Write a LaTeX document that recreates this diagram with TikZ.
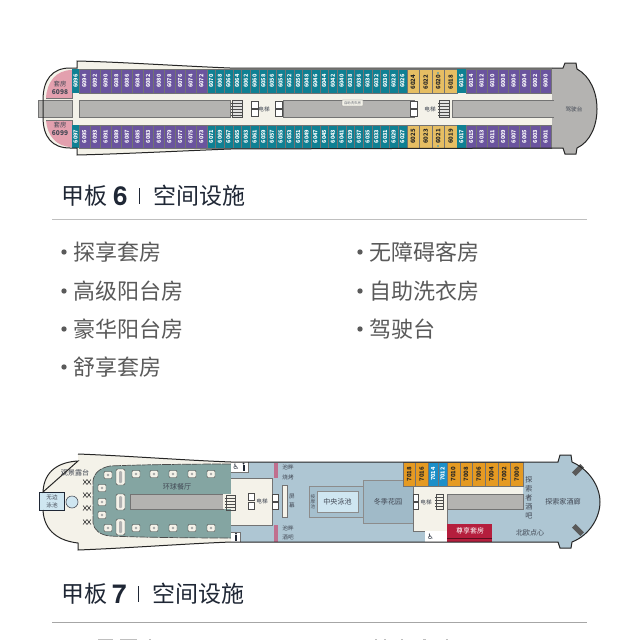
\documentclass[tikz,border=0pt]{standalone}
\usepackage{fontspec}
\setmainfont{Noto Sans CJK SC}
\newfontfamily\latinfont{TeX Gyre Heros}
\newfontfamily\iconfont{DejaVu Sans}

\definecolor{hullCream}{HTML}{F4F2E9}
\definecolor{roomPurple}{HTML}{6A549E}
\definecolor{roomTeal}{HTML}{0F8093}
\definecolor{roomGold}{HTML}{E6BE63}
\definecolor{roomOrange}{HTML}{E59A22}
\definecolor{roomBlue}{HTML}{1C8FC8}
\definecolor{roomPink}{HTML}{E3A0AE}
\definecolor{deckGray}{HTML}{B4B3B1}
\definecolor{deckBlue}{HTML}{AEC6D3}
\definecolor{gardenBlue}{HTML}{A0BAC8}
\definecolor{poolBlue}{HTML}{CFE6F1}
\definecolor{diningTeal}{HTML}{84A5A2}
\definecolor{suiteRed}{HTML}{B51E3D}
\definecolor{barPink}{HTML}{C06F8E}
\definecolor{inkDark}{HTML}{1F2735}
\definecolor{inkGray}{HTML}{5A5A5A}

\tikzset{
    hullline/.style={draw=black!85, line width=1pt},
    roomline/.style={draw=black!55, line width=0.25pt},
    roomtext/.style={white, font=\fontsize{5.6}{5.6}\selectfont\bfseries, rotate=90, inner sep=0pt},
    goldtext/.style={roomtext, black!85, font=\fontsize{6}{6}\selectfont\bfseries},
    tinytext/.style={inkDark!85, font=\fontsize{5.6}{6}\selectfont, inner sep=0pt},
    smalltext/.style={inkDark!85, font=\fontsize{7.1}{7}\selectfont, inner sep=0pt},
    titletext/.style={inkDark, anchor=west, font=\fontsize{23}{24}\selectfont, inner sep=0pt},
    numtext/.style={inkDark, anchor=west, font=\fontsize{26}{26}\selectfont\latinfont\bfseries, inner sep=0pt},
    listtext/.style={inkGray, anchor=west, font=\fontsize{22}{24}\selectfont, inner sep=0pt},
    seatbox/.style={fill=hullCream, draw=black!75, line width=0.4pt, rounded corners=1pt},
    liftbox/.style={fill=white, draw=black!70, line width=0.3pt},
}

\begin{document}
\begin{tikzpicture}[x=1pt,y=-1pt]

    \useasboundingbox (0,0) rectangle (640,640);
    \fill[white] (0,0) rectangle (640,640);

    % deck 6 hull
    \fill[hullCream] (77,61) .. controls (120,62) and (180,66) .. (230,68) -- (552,68) -- (552,148) -- (230,149)
        .. controls (180,151) and (120,154) .. (77,155) -- (77,148) -- (70,148) .. controls (52,148) and (43,137) .. (43,117) -- (43,100)
        .. controls (43,80) and (52,68) .. (70,68) -- (77,68) -- cycle;

    % stern suites
    \fill[roomPink] (72,70) .. controls (56,70) and (47,82) .. (46,98) -- (72,98) -- cycle;
    \fill[roomPink] (72,147) .. controls (56,147) and (47,135) .. (46,120) -- (72,120) -- cycle;
    \draw[roomline] (72,69) -- (72,98) -- (46,98);
    \draw[roomline] (72,148) -- (72,120) -- (46,120);
    \node[tinytext, font=\fontsize{6.4}{6.4}\selectfont] (suiteTopA) at (60,84) {套房};
    \node[tinytext, font=\fontsize{6.6}{6.6}\selectfont\bfseries] (suiteTopB) at (60,92.5) {6098};
    \node[tinytext, font=\fontsize{6.6}{6.6}\selectfont\bfseries] (suiteLowB) at (60,133) {6099};
    \node[tinytext, font=\fontsize{6.4}{6.4}\selectfont] (suiteLowA) at (60,125) {套房};

    % deck 6 bridge
    \fill[deckGray] (552,68) -- (563,68) -- (565,63) -- (576,63) -- (577,69) .. controls (590,76) and (597,92) .. (597,109)
        .. controls (597,126) and (590,142) .. (577,148) -- (576,154) -- (565,154) -- (563,148) -- (552,148) -- cycle;
    \draw[hullline] (552,68) -- (563,68) -- (565,63) -- (576,63) -- (577,69) .. controls (590,76) and (597,92) .. (597,109)
        .. controls (597,126) and (590,142) .. (577,148) -- (576,154) -- (565,154) -- (563,148) -- (552,148);
    \node[tinytext] (bridgeSix) at (574,109) {驾驶台};

    % deck 6 central corridor
    \fill[deckGray] (38,100) rectangle (72,117);
    \draw[roomline] (38,100) rectangle (72,117);
    \fill[deckGray] (79,100) rectangle (230,117);
    \fill[deckGray] (283,100) rectangle (414,117);
    \fill[deckGray] (452,100) rectangle (554,117);
    \draw[roomline] (79,100) rectangle (230,117);
    \draw[roomline] (283,100) rectangle (414,117);
    \draw[roomline] (452,100) -- (554,100) (452,100) -- (452,117) -- (554,117);
    \fill[hullCream, draw=black!55, line width=0.25pt, rounded corners=0.5pt] (342,100) rectangle (363,106);
    \node[inkDark!70, font=\fontsize{3.4}{3}\selectfont, inner sep=0pt] (laundrySix) at (352.5,103) {自助洗衣房};

    % stairs and lifts
    \foreach \sx in {232,439}{
        \fill[deckGray!40] (\sx,100) rectangle +(10,17);
        \draw[black!70, line width=0.3pt] (\sx,100) rectangle +(10,17);
        \foreach \sy in {103,106,...,115}
            \draw[black!70, line width=0.3pt] (\sx-1,\sy) -- +(12,0);
    }
    \foreach \lx/\ly in {251/101,251/109,275/101,275/109,410/101,410/109}
        \draw[liftbox] (\lx,\ly) rectangle +(7,7);
    \node[tinytext] (liftSixA) at (264,109) {电梯};
    \node[tinytext] (liftSixB) at (430,109) {电梯};

    % deck 6 purple cabins, aft
    \foreach \i/\up/\dn in {0/6094/6095,1/6092/6093,2/6090/6091,3/6088/6089,4/6086/6087,5/6084/6085,6/6082/6083,7/6080/6081,8/6078/6079,9/6076/6077,10/6074/6075,11/6072/6073}{
        \fill[roomPurple] (79+\i*10.64,69) rectangle +(10.64,24);
        \fill[roomPurple] (79+\i*10.64,125) rectangle +(10.64,23);
        \draw[roomline] (79+\i*10.64,69) rectangle +(10.64,24);
        \draw[roomline] (79+\i*10.64,125) rectangle +(10.64,23);
        \node[roomtext] (upA\i) at (84.3+\i*10.64,81) {\up};
        \node[roomtext] (dnA\i) at (84.3+\i*10.64,136.5) {\dn};
    }
    % aft teal pair
    \fill[roomTeal] (72,69) rectangle (79,93);
    \fill[roomTeal] (72,125) rectangle (79,148);
    \node[roomtext] (upTeal) at (75.5,81) {6096};
    \node[roomtext] (dnTeal) at (75.5,136.5) {6097};

    % deck 6 teal cabins
    \foreach \i/\up/\dn in {0/6070/6071,1/6068/6069,2/6066/6067,3/6064/6065,4/6062/6063,5/6060/6061,6/6058/6059,7/6056/6057,8/6054/6055,9/6052/6053,10/6050/6051,11/6048/6049,12/6046/6047,13/6044/6045,14/6042/6043,15/6040/6041,16/6038/6039,17/6036/6037,18/6034/6035,19/6032/6033,20/6030/6031,21/6028/6029,22/6026/6027}{
        \fill[roomTeal] (206.7+\i*8.696,69) rectangle +(8.696,24);
        \fill[roomTeal] (206.7+\i*8.696,125) rectangle +(8.696,23);
        \draw[roomline] (206.7+\i*8.696,69) rectangle +(8.696,24);
        \draw[roomline] (206.7+\i*8.696,125) rectangle +(8.696,23);
        \node[roomtext] (upB\i) at (211.05+\i*8.696,81) {\up};
        \node[roomtext] (dnB\i) at (211.05+\i*8.696,136.5) {\dn};
    }

    % deck 6 gold cabins
    \foreach \i/\up/\dn in {0/6024/6025,1/6022/6023,2/6020/6021,3/6018/6019}{
        \fill[roomGold] (406.7+\i*12.6,69) rectangle +(12.6,24);
        \fill[roomGold] (406.7+\i*12.6,125) rectangle +(12.6,23);
        \draw[roomline] (406.7+\i*12.6,69) rectangle +(12.6,24);
        \draw[roomline] (406.7+\i*12.6,125) rectangle +(12.6,23);
        \node[goldtext] (upC\i) at (413+\i*12.6,82) {\up};
        \node[goldtext] (dnC\i) at (413+\i*12.6,136.5) {\dn};
    }
    \fill[roomBlue] (438,73) circle (0.9);
    \fill[roomBlue] (438,146) circle (0.9);
    \fill[roomTeal] (457,69) rectangle (465.7,93);
    \fill[roomTeal] (457,125) rectangle (465.7,148);
    \node[roomtext] (upFwd) at (461.3,81) {6016};
    \node[roomtext] (dnFwd) at (461.3,136.5) {6017};

    % deck 6 purple cabins, forward
    \foreach \i/\up/\dn in {0/6014/6015,1/6012/6013,2/6010/6011,3/6008/6009,4/6006/6007,5/6004/6005,6/6002/6003,7/6000/6001}{
        \fill[roomPurple] (465.7+\i*10.67,69) rectangle +(10.67,24);
        \fill[roomPurple] (465.7+\i*10.67,125) rectangle +(10.67,23);
        \draw[roomline] (465.7+\i*10.67,69) rectangle +(10.67,24);
        \draw[roomline] (465.7+\i*10.67,125) rectangle +(10.67,23);
        \node[roomtext] (upD\i) at (471+\i*10.67,81) {\up};
        \node[roomtext] (dnD\i) at (471+\i*10.67,136.5) {\dn};
    }

    % deck 6 hull lines
    \draw[hullline] (552,68) -- (230,68) .. controls (180,66) and (120,62) .. (77,61) -- (77,68) -- (70,68)
        .. controls (52,68) and (43,80) .. (43,100) -- (43,117) .. controls (43,137) and (52,148) .. (70,148) -- (77,148) -- (77,155)
        .. controls (120,154) and (180,151) .. (230,149) -- (552,148);

    % deck 6 heading
    \node[titletext] (titleSix) at (61,196) {甲板};
    \node[numtext] (numSix) at (113,196) {6};
    \fill[inkDark] (139,188) rectangle (140.4,204);
    \node[titletext] (roomsSix) at (153,196) {空间设施};
    \draw[black!25, line width=0.8pt] (52,219.5) -- (587,219.5);

    % facility list
    \foreach \n/\lx/\ly/\txt in {a/73/252/探享套房,b/73/291/高级阳台房,c/73/329/豪华阳台房,d/73/367/舒享套房,e/369/252/无障碍客房,f/369/291/自助洗衣房,g/369/329/驾驶台}{
        \fill[inkGray] (\lx-9,\ly) circle (2.7);
        \node[listtext] (item\n) at (\lx,\ly) {\txt};
    }

    % deck 7 hull
    \fill[hullCream] (78,454) .. controls (130,456) and (180,460) .. (231,462) -- (231,542)
        .. controls (180,544) and (130,548) .. (78,550) -- (78,543) .. controls (60,541) and (44,532) .. (43,510) -- (43,492)
        .. controls (44,470) and (60,462) .. (78,461) -- cycle;

    % dining room
    \fill[diningTeal, draw=black!70, line width=0.7pt, dash pattern=on 9pt off 1pt] (231,464) .. controls (180,464) and (130,465) .. (110,466)
        .. controls (100,468) and (94,473) .. (93,481) -- (93,523) .. controls (94,530) and (100,535) .. (110,536)
        .. controls (130,537) and (180,538) .. (231,538);
    \fill[deckGray] (130,494) rectangle (223,509);
    \draw[roomline] (130,494) rectangle (223,509);
    \fill[hullCream] (223,494) rectangle (231,509);
    \node[smalltext] (dining) at (177,487) {环球餐厅};

    % small tables, four seats
    \foreach \tx/\ty in {108/475,136/474,154/474,173/474,192/474,211/474,108/528,136/528,154/528,173/528,192/528,211/528,102/488,102/502,102/515}{
        \draw[seatbox] (\tx-4,\ty-3.5) rectangle (\tx+4,\ty+3.5);
        \fill[black!35] (\tx,\ty) circle (1.4);
    }
    % long tables
    \foreach \ty in {477,502,527}{
        \draw[seatbox, rounded corners=2pt] (116,\ty-8) rectangle (125,\ty+8);
        \fill[black!30, rounded corners=1pt] (119,\ty-6) rectangle (122,\ty+6);
    }
    % sun loungers
    \foreach \ty in {482,495,508,522}{
        \draw[black!75, line width=0.6pt] (83,\ty-2.5) -- (87,\ty+2.5) (83,\ty+2.5) -- (87,\ty-2.5);
        \draw[black!75, line width=0.6pt] (87,\ty-2.5) -- (91,\ty+2.5) (87,\ty+2.5) -- (91,\ty-2.5);
    }
    \node[smalltext] (sunDeck) at (75,473) {观景露台};

    % infinity pool
    \fill[poolBlue, draw=inkDark, line width=0.6pt] (39,492) rectangle (64,510);
    \node[tinytext] (poolA) at (52,497.5) {无边};
    \node[tinytext] (poolB) at (52,505) {泳池};
    \fill[poolBlue, draw=inkDark!80, line width=0.6pt] (72,502) circle (6);

    % deck 7 blue area
    \fill[deckBlue] (231,462) -- (558,462) -- (560,455) -- (571,455) -- (572,462) .. controls (590,470) and (600,487) .. (600,502)
        .. controls (600,517) and (590,535) .. (572,542) -- (571,548) -- (560,548) -- (558,542) -- (231,542) -- cycle;

    % forward lobby aft
    \fill[hullCream] (231,478) rectangle (272,525);
    \draw[roomline] (231,478) -- (272,478) -- (272,525) -- (231,525);
    \fill[white] (231,462) rectangle (248,472);
    \fill[white] (231,532) rectangle (240,542);
    \draw[roomline] (231,472) -- (248,472) -- (248,462) (231,532) -- (240,532) -- (240,542);
    \node[inkDark, font=\fontsize{7.5}{7}\selectfont\iconfont, inner sep=0pt] (wcAftA) at (236,467) {♿};
    \foreach \wx/\wy in {243.5/467,236/537,436.5/537,441.5/537}{
        \fill[inkDark] (\wx,\wy-3.3) circle (1);
        \fill[inkDark] (\wx-1,\wy-2) rectangle (\wx+1,\wy+3.5);
    }
    \draw[black!70, line width=0.3pt] (226,495) rectangle +(9,15);
    \foreach \sy in {498,501,...,507}
        \draw[black!70, line width=0.3pt] (225,\sy) -- +(11,0);
    \foreach \lx/\ly in {248/493,248/502,272/494,272/502}
        \draw[liftbox] (\lx,\ly) rectangle +(6,7);
    \node[tinytext] (liftSevenA) at (262,501) {电梯};

    % screen and poolside
    \fill[hullCream, draw=black!55, line width=0.25pt] (282,485) rectangle (287,517);
    \node[tinytext] (screenA) at (292,497) {屏};
    \node[tinytext] (screenB) at (292,505) {幕};
    \fill[barPink] (274,463) rectangle (278,478);
    \fill[barPink] (274,525) rectangle (278,542);
    \node[tinytext] (grillA) at (288,467) {池畔};
    \node[tinytext] (grillB) at (288,477) {烧烤};
    \node[tinytext] (barA) at (288,528) {池畔};
    \node[tinytext] (barB) at (288,537) {酒吧};

    % central pool
    \fill[gardenBlue!60!deckBlue, draw=black!45, line width=0.3pt] (309,486) rectangle (363,517);
    \fill[poolBlue, draw=black!45, line width=0.3pt] (317,491) rectangle (358,512);
    \node[smalltext] (pool) at (337.5,501.5) {中央泳池};
    \node[inkDark!80, font=\fontsize{4.6}{5}\selectfont, inner sep=0pt, align=center] (massage) at (313,502) {按\\摩\\池};

    % winter garden
    \fill[gardenBlue, draw=black!45, line width=0.3pt] (363,480) rectangle (413,523);
    \node[smalltext] (garden) at (388,502) {冬季花园};

    % forward lobby
    \fill[hullCream] (413,486) rectangle (523,494);
    \fill[hullCream] (413,486) rectangle (447,531);
    \draw[roomline] (523,486) -- (413,486) -- (413,531) -- (447,531) -- (447,494);
    \fill[deckGray] (447,494) rectangle (523,509);
    \draw[roomline] (447,494) rectangle (523,509);
    \foreach \ly in {494,502}
        \draw[liftbox] (413,\ly) rectangle +(5.5,7);
    \node[tinytext] (liftSevenB) at (426,502) {电梯};
    \draw[black!70, line width=0.3pt] (436,494) rectangle +(7,15);
    \foreach \sy in {497,500,...,506}
        \draw[black!70, line width=0.3pt] (435,\sy) -- +(9,0);

    % forward toilets and red suite
    \fill[white] (425,531) rectangle (447,542);
    \node[inkDark, font=\fontsize{7.5}{7}\selectfont\iconfont, inner sep=0pt] (wcFwd) at (430.5,537) {♿};
    \fill[suiteRed] (447,524) rectangle (492,542);
    \draw[black!50!suiteRed, line width=0.3pt] (447,538.5) -- (492,538.5);
    \node[white, font=\fontsize{7}{7}\selectfont, inner sep=0pt] (suiteRoom) at (470,531) {尊享套房};

    % deck 7 cabins
    \foreach \cx/\cw/\cc/\lab in {403/12.5/roomOrange/7018,415.5/12.5/roomOrange/7016,428/10/roomBlue/7014,438/9/roomBlue/7012,447/12.7/roomOrange/7010,459.7/12.7/roomOrange/7008,472.4/12.7/roomOrange/7006,485.1/12.7/roomOrange/7004,497.8/12.7/roomOrange/7002,510.5/12.7/roomOrange/7000}{
        \fill[\cc] (\cx,462) rectangle +(\cw,24);
        \draw[roomline] (\cx,462) rectangle +(\cw,24);
    }
    \foreach \n/\cx/\lab in {a/409.2/7018,b/421.7/7016,f/453.3/7010,g/466/7008,h/478.8/7006,i/491.5/7004,j/504.2/7002,k/516.8/7000}
        \node[goldtext] (cab\n) at (\cx,474) {\lab};
    \node[roomtext] (cabc) at (433,474) {7014};
    \node[roomtext] (cabd) at (442.5,474) {7012};

    % forward labels
    \foreach \n/\ly/\txt in {a/480/探,b/489/索,c/498/者,d/507/酒,e/516/吧}
        \node[smalltext] (bar\n) at (529,\ly) {\txt};
    \node[smalltext] (nordic) at (530,533) {北欧点心};
    \node[smalltext] (lounge) at (563,502) {探索家酒廊};
    \foreach \n/\ly/\ang in {a/470/45,b/530/-45}
        \fill[inkGray, rotate around={\ang:(578,\ly)}] (572,\ly-2.5) rectangle (584,\ly+2.5);

    % deck 7 hull lines
    \draw[hullline] (78,454) .. controls (130,456) and (180,460) .. (231,462) -- (558,462) -- (560,455) -- (571,455) -- (572,462)
        .. controls (590,470) and (600,487) .. (600,502) .. controls (600,517) and (590,535) .. (572,542) -- (571,548) -- (560,548)
        -- (558,542) -- (231,542) .. controls (180,544) and (130,548) .. (78,550) -- (78,543)
        .. controls (60,541) and (44,532) .. (43,510) (43,492) .. controls (44,470) and (60,462) .. (78,461) -- cycle;

    % deck 7 heading
    \node[titletext] (titleSeven) at (61,594) {甲板};
    \node[numtext] (numSeven) at (112,594) {7};
    \fill[inkDark] (138,586) rectangle (139.4,602);
    \node[titletext] (roomsSeven) at (152,594) {空间设施};
    \draw[black!35, line width=0.8pt] (52,622) -- (587,622);

    % tops of the next list, cut by the page edge
    \draw[black!25, line width=0.7pt] (98,639.5) -- (113,639.5) (120,639.5) -- (137,639.5) (149,639.5) -- (151,639.5);
    \draw[black!25, line width=0.7pt] (375,639.5) -- (377,639.5) (384,639.5) -- (386,639.5) (401,639.5) -- (403,639.5) (423,639.5) -- (426,639.5) (446,639.5) -- (448,639.5);

\end{tikzpicture}
\end{document}
